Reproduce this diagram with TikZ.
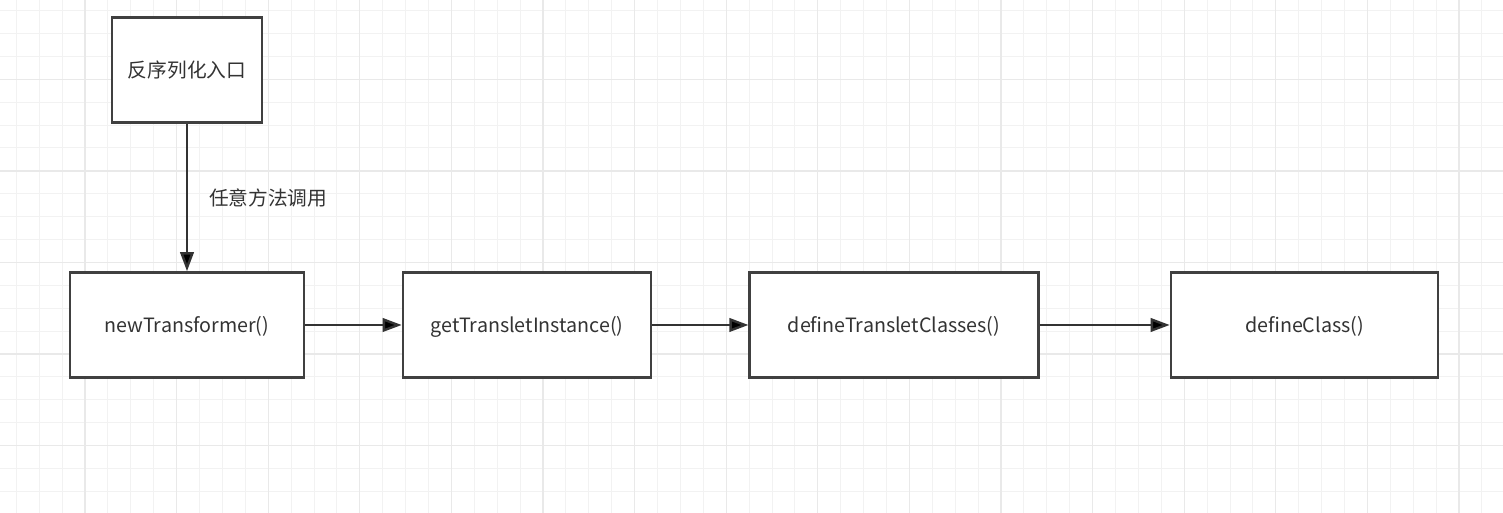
\documentclass[tikz,border=0pt]{standalone}
\usepackage{fontspec}
\setmainfont{Noto Sans CJK SC}
\usetikzlibrary{arrows.meta}
\definecolor{gridminor}{HTML}{F2F2F2}
\definecolor{gridmajor}{HTML}{E9E9E9}
\definecolor{boxline}{HTML}{404040}
\definecolor{textgray}{HTML}{333333}

\begin{document}
\begin{tikzpicture}[x=0.01cm, y=-0.01cm,
		every node/.style={font=\fontsize{5.6}{6.5}\selectfont, text=textgray},
		fnbox/.style={rectangle, draw=boxline, line width=0.25mm, fill=white, minimum height=1.05cm, text depth=0.02cm}]
			\useasboundingbox (0,0) rectangle (1503,513);
			% Grid
			\fill[white] (0,0) rectangle (1503,513);
			\begin{scope}
				\clip (0,0) rectangle (1503,513);
				\foreach \k in {0,...,66} \draw[gridminor, line width=0.1mm] ({-6.6+22.9*\k},0) -- ({-6.6+22.9*\k},513);
				\foreach \k in {0,...,23} \draw[gridminor, line width=0.1mm] (0,{-12.3+22.9*\k}) -- (1503,{-12.3+22.9*\k});
				\foreach \k in {0,...,16} \draw[gridmajor, line width=0.13mm] ({-6.6+91.6*\k},0) -- ({-6.6+91.6*\k},513);
				\foreach \k in {0,...,6} \draw[gridmajor, line width=0.13mm] (0,{-12.3+91.6*\k}) -- (1503,{-12.3+91.6*\k});
			\end{scope}
			% Nodes
			\node[fnbox, minimum width=1.5cm] (entry) at (187,70) {反序列化入口};
			\node[fnbox, minimum width=2.34cm] (newT) at (187,325) {newTransformer()};
			\node[fnbox, minimum width=2.48cm] (getTI) at (527,325) {getTransletInstance()};
			\node[fnbox, minimum width=2.885cm] (defTC) at (894,325) {defineTransletClasses()};
			\node[fnbox, minimum width=2.67cm] (defC) at (1304.5,325) {defineClass()};
			% Edges
			\path[-{Triangle[length=1.9mm, width=1.35mm]}, draw=textgray, line width=0.24mm] (entry) edge node[midway, anchor=west, inner sep=0pt, xshift=0.21cm]{任意方法调用} (newT);
			\path[-{Triangle[length=1.9mm, width=1.35mm]}, draw=textgray, line width=0.24mm] (newT) edge (getTI);
			\path[-{Triangle[length=1.9mm, width=1.35mm]}, draw=textgray, line width=0.24mm] (getTI) edge (defTC);
			\path[-{Triangle[length=1.9mm, width=1.35mm]}, draw=textgray, line width=0.24mm] (defTC) edge (defC);
		\end{tikzpicture}
\end{document}
